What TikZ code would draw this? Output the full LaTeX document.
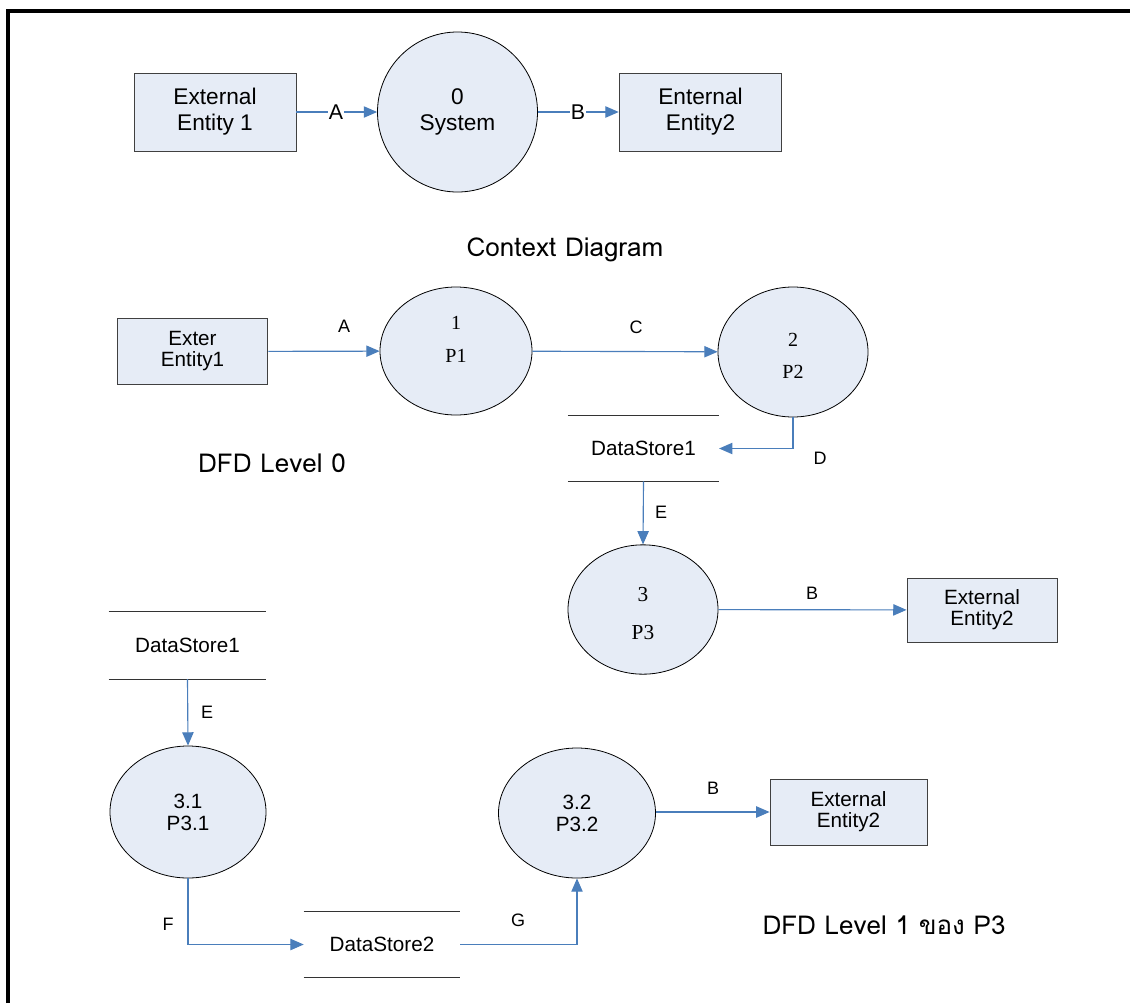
\documentclass[tikz,border=0pt]{standalone}
\usepackage{fontspec}
\setmainfont{Liberation Sans}
\newfontfamily\serifface{Liberation Serif}
\newfontfamily\titleface[Script=Thai]{Loma}
\usetikzlibrary{arrows.meta,shapes.geometric,calc}
\definecolor{flowblue}{HTML}{4A7EBB}
\definecolor{shapefill}{HTML}{E6ECF6}

\begin{document}
\begin{tikzpicture}[x=0.75pt,y=-0.75pt,
  entity/.style={draw=black!75,line width=0.65pt,fill=shapefill,align=center,inner sep=0pt},
  proc/.style={ellipse,draw=black,line width=0.6pt,fill=shapefill,inner sep=0pt,align=center},
  store/.style={inner sep=0pt,align=center,font=\fontsize{15.5}{18}\selectfont},
  storeline/.style={draw=black!80,line width=0.8pt},
  flow/.style={draw=flowblue,line width=0.85pt,-{Triangle[length=10pt,width=8.5pt]},fill=none},
  flowlbl/.style={inner sep=1pt,font=\fontsize{13.5}{15}\selectfont},
  ctxlbl/.style={inner sep=1pt,fill=white,font=\fontsize{16}{18}\selectfont},
  bigtext/.style={font=\fontsize{17}{19.3}\selectfont},
  smalltext/.style={font=\fontsize{15.5}{15.75}\selectfont},
  seriftext/.style={align=center,inner sep=0pt},
  heading/.style={font=\titleface\fontsize{19.5}{22}\selectfont}
]
\useasboundingbox (0,0) rectangle (1130,1003);
\fill[white] (0,0) rectangle (1130,1003);
% outer frame (left and top edges)
\draw[line width=3pt] (7.5,1003) -- (7.5,11) -- (1130,11);

% ---------- Context diagram ----------
\node[entity,bigtext,minimum width=121.5pt,minimum height=58.5pt] (ce1) at (215,112) {External\\Entity 1};
\node[proc,circle,bigtext,minimum size=120pt] (csys) at (457.5,112) {0\\System};
\node[entity,bigtext,minimum width=122pt,minimum height=58.5pt] (ce2) at (700.5,112) {Enternal\\Entity2};
\draw[flow] (ce1) -- (csys);
\draw[flow] (csys) -- (ce2);
\node[ctxlbl] (cA) at (336,112) {A};
\node[ctxlbl] (cB) at (578,112) {B};
\node[heading] (tctx) at (565,250) {Context Diagram};

% ---------- DFD level 0 ----------
\node[entity,smalltext,minimum width=113pt,minimum height=49pt] (l0e1) at (192.5,351.5) {Exter\\Entity1};
\node[proc,minimum width=114pt,minimum height=96pt] (l0p1) at (456,351) {};
\node[seriftext,font=\serifface\fontsize{15}{24.75}\selectfont] (l0p1t) at ($(l0p1)+(0,-11.5)$) {1\\P1};
\node[proc,minimum width=112.5pt,minimum height=97.5pt] (l0p2) at (793,352) {};
\node[seriftext,font=\serifface\fontsize{15}{24}\selectfont] (l0p2t) at ($(l0p2)+(0,4)$) {2\\P2};
\node[store,minimum width=113pt,minimum height=49pt] (l0ds1) at (643.5,448.5) {DataStore1};
\draw[storeline] (l0ds1.north west) -- (l0ds1.north east);
\draw[storeline] (l0ds1.south west) -- (l0ds1.south east);
\node[proc,minimum width=112.5pt,minimum height=97pt] (l0p3) at (643,609.5) {};
\node[seriftext,font=\serifface\fontsize{16}{28.5}\selectfont] (l0p3t) at ($(l0p3)+(0,4.5)$) {3\\P3};
\node[entity,smalltext,minimum width=112.5pt,minimum height=48pt] (l0e2) at (982,610) {External\\Entity2};

\draw[flow] (l0e1) -- (l0p1);
\draw[flow] (l0p1) -- (l0p2);
\draw[flow] (l0p2.south) |- (l0ds1.east);
\draw[flow] (l0ds1.south) -- (l0p3.north);
\draw[flow] (l0p3) -- (l0e2);
\node[flowlbl] (l0A) at (344,326) {A};
\node[flowlbl] (l0C) at (636,327) {C};
\node[flowlbl] (l0D) at (820,458) {D};
\node[flowlbl] (l0E) at (661,512) {E};
\node[flowlbl] (l0B) at (812,593) {B};
\node[heading] (tl0) at (272,463) {DFD Level 0};

% ---------- DFD level 1 of P3 ----------
\node[store,minimum width=118pt,minimum height=50pt] (l1ds1) at (187.5,645.5) {DataStore1};
\draw[storeline] (l1ds1.north west) -- (l1ds1.north east);
\draw[storeline] (l1ds1.south west) -- (l1ds1.south east);
\node[proc,font=\fontsize{15.5}{16.5}\selectfont,minimum width=117pt,minimum height=99pt] (l1p31) at (188,812) {3.1\\P3.1};
\node[store,minimum width=117pt,minimum height=48.75pt] (l1ds2) at (382,944.5) {DataStore2};
\draw[storeline] (l1ds2.north west) -- (l1ds2.north east);
\draw[storeline] (l1ds2.south west) -- (l1ds2.south east);
\node[proc,font=\fontsize{15.5}{16.5}\selectfont,minimum width=117.75pt,minimum height=97.5pt] (l1p32) at (577,813) {3.2\\P3.2};
\node[entity,smalltext,minimum width=117.75pt,minimum height=49.5pt] (l1e2) at (848.5,812) {External\\Entity2};

\draw[flow] (l1ds1.south) -- (l1p31.north);
\draw[flow] (l1p31.south) |- (l1ds2.west);
\draw[flow] (l1ds2.east) -| (l1p32.south);
\draw[flow] (l1p32.east |- l1e2.west) -- (l1e2.west);
\node[flowlbl] (l1E) at (207,712) {E};
\node[flowlbl] (l1F) at (168,924) {F};
\node[flowlbl] (l1G) at (518,920) {G};
\node[flowlbl] (l1B) at (713,788) {B};
\node[heading] (tl1) at (884,925) {DFD Level 1 ของ P3};
\end{tikzpicture}
\end{document}
